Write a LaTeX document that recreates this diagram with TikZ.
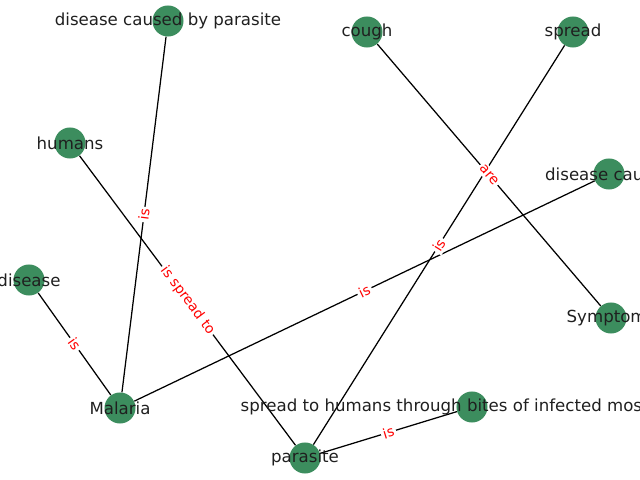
\documentclass[tikz,border=0pt]{standalone}
\usepackage{fontspec}
\setmainfont{DejaVu Sans}
\usetikzlibrary{backgrounds}
\definecolor{nodegreen}{RGB}{60,141,94}
\tikzset{
	vert/.style={circle,fill=nodegreen,minimum size=0.31in,inner sep=0pt},
	every label/.style={font=\fontsize{12}{14}\selectfont,text=black!88},
	elabel/.style={midway,sloped,fill=white,text=red,inner sep=1.5pt,
		font=\fontsize{10}{12}\selectfont},
}

\begin{document}
\begin{tikzpicture}[x=0.01in,y=-0.01in]
	\useasboundingbox (0,0) rectangle (640,480);
	\node[vert,label=center:{disease caused by parasite}] (dcbp) at (168,21) {};
	\node[vert,label=center:{cough}] (cough) at (367,32) {};
	\node[vert,label=center:{spread}] (spread) at (573,32) {};
	\node[vert,label=center:{humans}] (humans) at (70,143) {};
	\node[vert,label=center:{disease caused}] (dcause) at (609,174) {};
	\node[vert,label=center:{disease}] (disease) at (29,280) {};
	\node[vert,label=center:{Symptoms}] (symptoms) at (611,318) {};
	\node[vert,label=center:{Malaria}] (malaria) at (120,408) {};
	\node[vert,label=center:{spread to humans through bites of infected mosquitoes}] (bites) at (472,407) {};
	\node[vert,label=center:{parasite}] (parasite) at (305,458) {};
	\begin{scope}[on background layer]
		\path[draw,line width=0.9pt]
		(malaria) edge (dcbp)
		(malaria) edge (disease)
		(malaria) edge (dcause)
		(humans) edge (parasite)
		(parasite) edge (spread)
		(parasite) edge (bites)
		(cough) edge (symptoms);
	\end{scope}
	\path (malaria) -- node[elabel] {is} (dcbp);
	\path (malaria) -- node[elabel] {is} (disease);
	\path (malaria) -- node[elabel] {is} (dcause);
	\path (humans) -- node[elabel] {is spread to} (parasite);
	\path (parasite) -- node[elabel] {is} (spread);
	\path (parasite) -- node[elabel] {is} (bites);
	\path (cough) -- node[elabel] {are} (symptoms);
\end{tikzpicture}
\end{document}
